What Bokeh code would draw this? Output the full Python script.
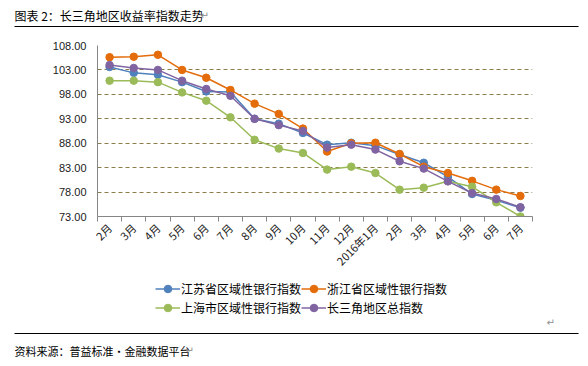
from bokeh.plotting import figure
from bokeh.models import (Range1d, FixedTicker, Legend, LegendItem, Label)
from bokeh.layouts import column
from bokeh.embed import file_html
from bokeh.resources import INLINE

months = ["2月", "3月", "4月", "5月", "6月", "7月", "8月", "9月", "10月", "11月", "12月",
          "2016年1月", "2月", "3月", "4月", "5月", "6月", "7月"]
jiangsu = [103.6, 102.4, 102.0, 100.5, 98.6, 98.5, 93.0, 92.0, 90.1, 87.7, 88.1, 87.5,
           85.7, 84.0, 81.1, 77.6, 76.3, 74.8]
zhejiang = [105.6, 105.7, 106.1, 103.0, 101.4, 98.9, 96.1, 94.0, 91.0, 86.3, 88.0, 88.1,
            85.8, 83.2, 81.9, 80.3, 78.5, 77.2]
shanghai = [100.8, 100.8, 100.5, 98.4, 96.7, 93.3, 88.7, 86.9, 86.0, 82.6, 83.2, 81.9,
            78.5, 78.9, 80.2, 79.1, 75.9, 73.0]
csj = [104.0, 103.4, 103.0, 100.8, 99.1, 97.7, 93.0, 91.7, 90.5, 87.1, 87.7, 86.7,
       84.3, 82.8, 80.2, 77.8, 76.6, 74.9]
series_names = ["江苏省区域性银行指数", "浙江省区域性银行指数", "上海市区域性银行指数", "长三角地区总指数"]
y_ticks = [73, 78, 83, 88, 93, 98, 103, 108]

title_text = "图表 2：长三角地区收益率指数走势"
source_text = "资料来源：普益标准・金融数据平台"

colors = ["#4F81BD", "#E46C0A", "#9BBB59", "#8064A2"]
CJK = "Noto Sans CJK SC"
W = 580


def strip(h):
    f = figure(width=W, height=h, x_range=Range1d(0, W), y_range=Range1d(h, 0),
               output_backend="svg", toolbar_location=None, title=None,
               x_axis_location=None, y_axis_location=None, min_border=0,
               frame_align=False)
    f.grid.visible = False
    f.outline_line_color = None
    return f


def mark(f, x, y):
    f.add_layout(Label(x=x, y=y, text="↵", text_font="DejaVu Sans", text_font_size="10px",
                       text_baseline="middle", text_color="#8c8c8c"))


# ---- top strip: title + rule
top = strip(32)
top.add_layout(Label(x=14, y=14.5, text=title_text, text_font=CJK, text_font_size="12px",
                     text_baseline="middle", text_color="#000000"))
mark(top, 200, 15)
top.segment(x0=[14], y0=[26], x1=[578], y1=[26], line_color="#000000", line_width=1.2)

# ---- main chart
xs = list(range(len(months)))
p = figure(width=W, height=246, x_range=Range1d(-0.5, len(months) - 0.5),
           y_range=Range1d(73, 108), output_backend="svg", toolbar_location=None,
           title=None, frame_align=False,
           min_border_left=97, min_border_right=48, min_border_top=13, min_border_bottom=62)
p.outline_line_color = None
p.xgrid.visible = False
p.ygrid.ticker = FixedTicker(ticks=y_ticks)
p.ygrid.grid_line_color = "#8B7E4A"
p.ygrid.grid_line_dash = "4 3"
p.ygrid.grid_line_width = 1

p.yaxis.ticker = FixedTicker(ticks=y_ticks)
p.yaxis.major_label_overrides = {t: f"{t:.2f}" for t in y_ticks}
p.yaxis.major_tick_out = 0
p.yaxis.major_tick_in = 0
p.yaxis.minor_tick_out = 0
p.yaxis.minor_tick_in = 0
p.yaxis.axis_line_color = "#868686"
p.yaxis.major_label_text_font = "Liberation Sans"
p.yaxis.major_label_text_font_size = "11px"
p.yaxis.major_label_text_color = "#1a1a1a"
p.yaxis.major_label_standoff = 11

p.xaxis.ticker = FixedTicker(ticks=xs, minor_ticks=[i - 0.5 for i in range(len(months) + 1)])
p.xaxis.major_label_overrides = {i: m for i, m in enumerate(months)}
p.xaxis.major_label_orientation = 0.7854
p.xaxis.major_tick_out = 0
p.xaxis.major_tick_in = 0
p.xaxis.minor_tick_out = 5
p.xaxis.minor_tick_in = 0
p.xaxis.minor_tick_line_color = "#868686"
p.xaxis.axis_line_color = "#868686"
p.xaxis.major_label_text_font = CJK
p.xaxis.major_label_text_font_size = "11px"
p.xaxis.major_label_text_color = "#1a1a1a"
p.xaxis.major_label_standoff = 4

all_series = [jiangsu, zhejiang, shanghai, csj]
for vals, c in zip(all_series, colors):
    p.line(xs, vals, line_color=c, line_width=1.5)
    p.scatter(xs, vals, size=7.5, fill_color=c, line_color=c, marker="circle")

# ---- legend strip (keys only; the key renderers sit outside this strip's view)
leg = figure(width=W, height=40, x_range=Range1d(0, 1), y_range=Range1d(0, 1),
             output_backend="svg", toolbar_location=None, title=None,
             x_axis_location=None, y_axis_location=None, min_border=0, frame_align=False)
leg.grid.visible = False
leg.outline_line_color = None
items = {}
for name, vals, c in zip(series_names, all_series, colors):
    lr = leg.line(x=xs[:2], y=vals[:2], line_color=c, line_width=1.5)
    sr = leg.scatter(x=xs[:1], y=vals[:1], size=6, fill_color=c, line_color=c, marker="circle")
    items[name] = LegendItem(label=name, renderers=[lr, sr])
order = [series_names[0], series_names[2], series_names[1], series_names[3]]
legend = Legend(items=[items[n] for n in order], ncols=2, location=(155, 1.5),
                glyph_width=25, glyph_height=19,
                label_height=19, label_standoff=1, spacing=0, padding=0, margin=0,
                label_text_font=CJK, label_text_font_size="12px",
                label_text_color="#000000", border_line_color=None,
                background_fill_alpha=0)
leg.add_layout(legend, "center")

# ---- bottom strip: mark + rule + source
bot = strip(40)
mark(bot, 546, 4)
bot.segment(x0=[14], y0=[15], x1=[578], y1=[15], line_color="#000000", line_width=1.2)
bot.add_layout(Label(x=14, y=32, text=source_text, text_font=CJK, text_font_size="11px",
                     text_baseline="middle", text_color="#000000"))
mark(bot, 185, 32)

layout = column(top, p, leg, bot, spacing=0)
open("out.html", "w").write(file_html(layout, INLINE))
